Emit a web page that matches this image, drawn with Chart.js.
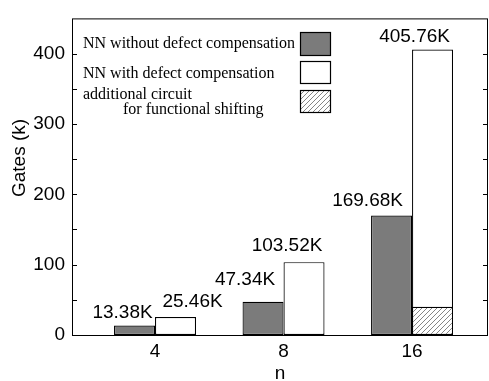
<!DOCTYPE html>
<html>
<head>
<meta charset="utf-8">
<script src="https://cdn.jsdelivr.net/npm/chart.js@4"></script>
<style>
  html, body { margin: 0; padding: 0; background: #fff; }
  canvas { display: block; }
</style>
</head>
<body>
<canvas id="gatesChart" width="489" height="381"></canvas>
<script>
const categories = ['4', '8', '16'];
const withoutComp = [13.38, 47.34, 169.68];
const withComp = [25.46, 103.52, 405.76];
const shiftCircuit = [null, null, 40];
const legendLabels = [
    ['NN without defect compensation'],
    ['NN with defect compensation'],
    ['additional circuit', 'for functional shifting']
];
const yTitle = 'Gates (k)';

// hand tuned label placement (dx from bar centre, gap above bar top)
const labelDx = [[-12, -18, -24], [17, -17, -18]];
const labelGap = [[8, 17, 10], [10, 11, 8]];

const SANS = "'Liberation Sans', Arial, sans-serif";
const SERIF = "'Liberation Serif', 'Times New Roman', serif";
const DARK = '#7b7b7b';

function hatchPattern() {
    const c = document.createElement('canvas');
    c.width = 5; c.height = 5;
    const g = c.getContext('2d');
    g.fillStyle = '#fff';
    g.fillRect(0, 0, 5, 5);
    g.strokeStyle = '#777';
    g.lineWidth = 0.9;
    g.beginPath();
    g.moveTo(-1, 6); g.lineTo(6, -1);
    g.moveTo(-1, 1); g.lineTo(1, -1);
    g.moveTo(4, 6); g.lineTo(6, 4);
    g.stroke();
    return g.createPattern(c, 'repeat');
}

function toPoints(arr) {
    return arr.map((v, i) => ({ x: i + 1, y: v })).filter(p => p.y !== null);
}

const ctx = document.getElementById('gatesChart').getContext('2d');
const hatch = hatchPattern();

const framePlugin = {
    id: 'frame',
    afterDraw(chart) {
        const { ctx, chartArea: a, scales } = chart;
        ctx.save();
        ctx.strokeStyle = '#000';
        ctx.lineWidth = 1;
        ctx.strokeRect(a.left + 0.5, a.top + 0.5, a.right - a.left - 1, a.bottom - a.top);
        // inward ticks on both sides
        ctx.beginPath();
        for (let v = 50; v < 450; v += 50) {
            const y = Math.round(scales.y.getPixelForValue(v)) + 0.5;
            ctx.moveTo(a.left, y); ctx.lineTo(a.left + 5, y);
            ctx.moveTo(a.right, y); ctx.lineTo(a.right - 5, y);
        }
        ctx.stroke();
        // y axis title, sits a bit above centre in the original
        ctx.translate(20, 158);
        ctx.rotate(-Math.PI / 2);
        ctx.font = '19px ' + SANS;
        ctx.fillStyle = '#000';
        ctx.textAlign = 'center';
        ctx.textBaseline = 'middle';
        ctx.fillText(yTitle, 0, 0);
        ctx.restore();
    }
};

const valueLabelPlugin = {
    id: 'valueLabels',
    afterDatasetsDraw(chart) {
        const { ctx } = chart;
        ctx.save();
        ctx.font = '19px ' + SANS;
        ctx.fillStyle = '#000';
        ctx.textAlign = 'center';
        ctx.textBaseline = 'alphabetic';
        [0, 2].forEach((di, k) => {
            const meta = chart.getDatasetMeta(di);
            const values = chart.data.datasets[di].data;
            meta.data.forEach((bar, i) => {
                const txt = values[i].y.toFixed(2) + 'K';
                ctx.fillText(txt, bar.x + labelDx[k][i], bar.y - labelGap[k][i]);
            });
        });
        ctx.restore();
    }
};

const legendPlugin = {
    id: 'boxLegend',
    afterDraw(chart) {
        const { ctx } = chart;
        const fills = [DARK, '#fff', hatch];
        const boxes = [[300, 32, 30, 23], [300, 61, 30, 22], [300, 90, 30, 22]];
        const lines = [[48], [78], [99, 114]];
        const indent = [[83], [83], [83, 123]];
        ctx.save();
        ctx.font = '16px ' + SERIF;
        ctx.fillStyle = '#000';
        ctx.textBaseline = 'alphabetic';
        legendLabels.forEach((lab, i) => {
            lab.forEach((t, j) => ctx.fillText(t, indent[i][j], lines[i][j]));
        });
        boxes.forEach((b, i) => {
            ctx.fillStyle = fills[i];
            ctx.fillRect(b[0], b[1], b[2], b[3]);
            ctx.strokeStyle = '#000';
            ctx.lineWidth = 1.2;
            ctx.strokeRect(b[0] + 0.5, b[1] + 0.5, b[2], b[3]);
        });
        ctx.restore();
    }
};

new Chart(ctx, {
    type: 'bar',
    data: {
        datasets: [
            {
                label: legendLabels[0].join(' '),
                stack: 'a',
                data: toPoints(withoutComp),
                backgroundColor: DARK,
                borderColor: '#000',
                borderWidth: 1.2,
                borderSkipped: false
            },
            {
                label: legendLabels[2].join(' '),
                stack: 'b',
                data: toPoints(shiftCircuit),
                backgroundColor: hatch,
                borderColor: '#000',
                borderWidth: 1.2,
                borderSkipped: false
            },
            {
                label: legendLabels[1].join(' '),
                stack: 'b',
                data: toPoints(withComp),
                backgroundColor: '#fff',
                borderColor: '#000',
                borderWidth: 1.2,
                borderSkipped: false
            }
        ]
    },
    options: {
        responsive: false,
        animation: false,
        devicePixelRatio: 1,
        categoryPercentage: 0.638,
        barPercentage: 1,
        layout: { padding: { left: 0, top: 8, right: 1, bottom: 0 } },
        plugins: {
            legend: { display: false },
            tooltip: { enabled: false }
        },
        scales: {
            x: {
                type: 'linear',
                stacked: true,
                offset: false,
                min: 0.354,
                max: 3.591,
                afterFit: (s) => { s.height = 46; },
                grid: { display: false, drawTicks: false, offset: false },
                border: { display: false },
                ticks: {
                    stepSize: 1,
                    includeBounds: false,
                    autoSkip: false,
                    padding: 5,
                    color: '#000',
                    font: { family: SANS, size: 19 },
                    callback: (v) => Number.isInteger(v) ? categories[v - 1] : ''
                },
                title: {
                    display: true,
                    text: 'n',
                    color: '#000',
                    padding: { top: 0, bottom: 0 },
                    font: { family: SANS, size: 19, lineHeight: 0.8 }
                }
            },
            y: {
                stacked: false,
                min: 0,
                max: 450,
                afterFit: (s) => { s.width = 72; },
                grid: { display: false, drawTicks: false },
                border: { display: false },
                ticks: {
                    stepSize: 50,
                    padding: 7,
                    color: '#000',
                    font: { family: SANS, size: 19 },
                    callback: (v) => v % 100 === 0 && v < 450 ? v : ''
                },
                title: { display: false }
            }
        }
    },
    plugins: [framePlugin, valueLabelPlugin, legendPlugin]
});
</script>
</body>
</html>
